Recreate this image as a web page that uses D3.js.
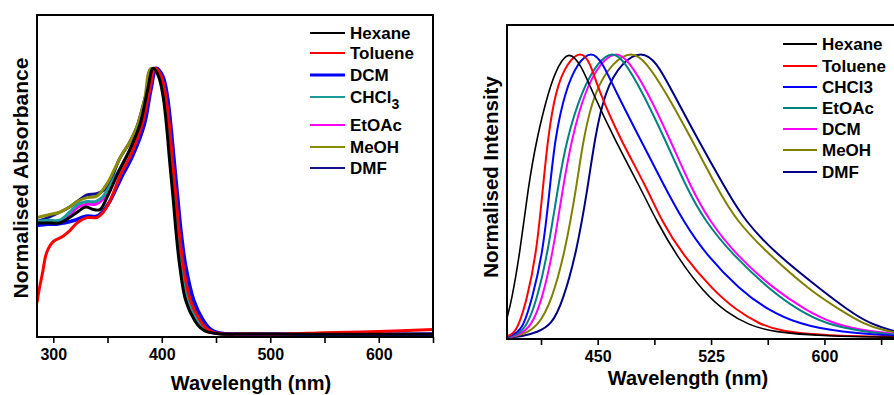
<!DOCTYPE html>
<html>
<head>
<meta charset="utf-8">
<script src="https://cdn.jsdelivr.net/npm/d3@7"></script>
<style>
  body { margin: 0; background: #fff; }
  svg { display: block; font-family: Arial, "Liberation Sans", sans-serif; font-weight: bold; }
</style>
</head>
<body>
<svg id="chart"></svg>
<script>
const size = { w: 894, h: 395 };

// ---- absorbance panel data: [wavelength nm, normalised absorbance] ----
const absHexane = [[285,0.42],[295,0.42],[306,0.42],[315,0.44],[322,0.46],[330,0.48],[337,0.47],[343,0.47],[350,0.52],[360,0.61],[370,0.69],[380,0.79],[387,0.92],[392,1.0],[397,0.97],[401,0.90],[404,0.80],[407.5,0.64],[410.5,0.51],[413.3,0.38],[416.5,0.26],[422,0.13],[430,0.056],[436,0.025],[442,0.011],[452,0.004],[480,0.003],[550,0.002],[650,0.002]];
const absToluene = [[285,0.12],[287,0.17],[290,0.23],[294,0.31],[300,0.35],[309,0.37],[315,0.39],[322,0.42],[331,0.44],[340,0.44],[346,0.46],[352,0.50],[362,0.60],[372,0.68],[382,0.79],[389,0.92],[394,1.0],[399.5,0.97],[403.5,0.90],[406.7,0.80],[410.1,0.64],[413.2,0.51],[416.2,0.38],[419.8,0.26],[426.3,0.13],[435,0.056],[441,0.025],[446.5,0.011],[456,0.004],[480,0.003],[515,0.003],[550,0.008],[600,0.013],[650,0.02]];
const absDCM = [[285,0.41],[295,0.415],[303,0.415],[310,0.42],[320,0.43],[330,0.445],[340,0.445],[345,0.46],[352,0.50],[364,0.60],[373,0.67],[384,0.79],[390,0.92],[395,1.0],[401,0.97],[405,0.90],[408,0.80],[411.5,0.65],[414.8,0.51],[418,0.38],[422,0.26],[429.5,0.13],[438,0.056],[444,0.025],[449.5,0.011],[458,0.004],[500,0.002],[650,0.002]];
const absCHCl3 = [[285,0.425],[295,0.43],[306,0.43],[315,0.46],[323,0.49],[331,0.50],[339,0.50],[346,0.52],[355,0.58],[365,0.65],[375,0.73],[383,0.83],[389,0.95],[393,1.0],[398.5,0.97],[402.5,0.90],[405.6,0.80],[409,0.64],[412,0.51],[414.8,0.38],[418.2,0.26],[424.3,0.13],[432.7,0.056],[438.7,0.025],[444.4,0.011],[454,0.004],[500,0.002],[650,0.002]];
const absEtOAc = [[285,0.42],[295,0.425],[306,0.425],[315,0.45],[323,0.48],[331,0.49],[339,0.49],[346,0.51],[355,0.57],[365,0.65],[375,0.73],[383,0.83],[389,0.95],[393,1.0],[398,0.97],[402,0.90],[405,0.80],[408.3,0.64],[411.3,0.51],[414.1,0.38],[417.4,0.26],[423.2,0.13],[431.4,0.056],[437.4,0.025],[443.2,0.011],[453,0.004],[500,0.002],[650,0.002]];
const absMeOH = [[285,0.44],[295,0.45],[306,0.46],[315,0.48],[322,0.50],[331,0.515],[340,0.52],[350,0.57],[361,0.66],[370,0.72],[377,0.78],[384,0.88],[390,1.0],[399,0.97],[403,0.90],[406.2,0.80],[409.6,0.64],[412.6,0.51],[415.5,0.38],[419,0.26],[425.3,0.13],[433.8,0.056],[439.8,0.025],[445.5,0.011],[455,0.004],[500,0.002],[650,0.002]];
const absDMF = [[285,0.425],[295,0.44],[306,0.46],[315,0.48],[322,0.50],[331,0.525],[340,0.53],[349,0.55],[361,0.66],[370,0.72],[377,0.78],[384,0.88],[390,0.97],[394,1.0],[400,0.97],[404,0.90],[407.3,0.80],[410.8,0.64],[414,0.51],[417.1,0.38],[421,0.26],[428,0.13],[436.5,0.056],[442.5,0.025],[448,0.011],[457,0.004],[500,0.002],[650,0.002]];

const absNames = ['Hexane', 'Toluene', 'DCM', 'CHCl3', 'EtOAc', 'MeOH', 'DMF'];
const absSeries = [absHexane, absToluene, absDCM, absCHCl3, absEtOAc, absMeOH, absDMF];
const absColors = ['#000000', '#ff0000', '#0000ff', '#1a9c9c', '#ff00ff', '#8c8c00', '#101090'];
const absTicks = [300, 350, 400, 450, 500, 550, 600, 650];
const absTickLabels = [300, 400, 500, 600];

// ---- emission panel data: [wavelength nm, normalised intensity] ----
const emHexane = [[390,0.07],[393,0.13],[398.6,0.30],[404,0.53],[409.6,0.70],[417.5,0.87],[424,0.96],[431,1.01],[439,0.96],[446,0.87],[461,0.70],[478,0.53],[489,0.41],[502,0.29],[520,0.16],[535,0.09],[550,0.045],[566,0.02],[600,0.006],[650,0.002]];
const emToluene = [[390,0.005],[394,0.015],[397.5,0.04],[403,0.13],[409.6,0.30],[413.8,0.53],[417,0.70],[422,0.87],[430,0.97],[439,1.01],[445,0.97],[450.6,0.87],[464.7,0.70],[482.3,0.53],[492.3,0.41],[506.5,0.29],[526,0.17],[541,0.10],[557,0.048],[572,0.022],[600,0.008],[650,0.003]];
const emCHCl3 = [[390,0.003],[396,0.015],[400.8,0.04],[406.3,0.13],[413.8,0.30],[418.4,0.53],[421.7,0.70],[428.5,0.87],[437,0.97],[446,1.01],[453,0.97],[461.6,0.87],[478,0.70],[494.4,0.53],[506.6,0.41],[522,0.29],[544,0.17],[562,0.10],[583,0.048],[610,0.02],[650,0.006]];
const emEtOAc = [[390,0.002],[397,0.012],[403,0.04],[409.6,0.13],[417,0.30],[423.7,0.53],[429.5,0.70],[439.6,0.87],[450,0.97],[460,1.01],[468,0.97],[479,0.87],[494.4,0.70],[508.5,0.53],[521,0.41],[539.6,0.29],[563.8,0.17],[582,0.10],[601,0.048],[625,0.022],[650,0.01]];
const emDCM = [[390,0.002],[398,0.01],[406,0.04],[413,0.13],[420.4,0.30],[427,0.53],[432.8,0.70],[441.6,0.87],[452,0.97],[462.7,1.01],[471,0.97],[482.5,0.87],[497.7,0.70],[511.5,0.53],[524,0.41],[541.8,0.29],[567,0.17],[587,0.10],[606,0.048],[630,0.022],[650,0.012]];
const emMeOH = [[390,0.001],[400,0.01],[410.6,0.04],[419.5,0.13],[428.3,0.30],[436,0.53],[440.4,0.70],[448,0.87],[460,0.97],[472.6,1.01],[482,0.97],[494.4,0.87],[512,0.70],[528.6,0.53],[541.8,0.41],[563.8,0.29],[592,0.16],[610,0.10],[626,0.048],[640,0.025],[650,0.016]];
const emDMF = [[390,0.001],[400,0.005],[410,0.02],[419.5,0.045],[427,0.13],[436,0.30],[443.5,0.53],[448,0.70],[454.8,0.87],[466,0.97],[479,1.01],[489,0.97],[499,0.87],[516,0.70],[534,0.53],[547.3,0.41],[569,0.29],[600,0.16],[615,0.10],[630,0.048],[650,0.018]];

const emNames = ['Hexane', 'Toluene', 'CHCl3', 'EtOAc', 'DCM', 'MeOH', 'DMF'];
const emSeries = [emHexane, emToluene, emCHCl3, emEtOAc, emDCM, emMeOH, emDMF];
const emColors = ['#000000', '#ff0000', '#0000ff', '#008080', '#ff00ff', '#808000', '#000080'];
const emTicks = [412.5, 450, 487.5, 525, 562.5, 600, 637.5];
const emTickLabels = [450, 525, 600];

const svg = d3.select('svg#chart')
    .attr('width', size.w)
    .attr('height', size.h);

// left panel: absorbance
drawPanel({
    id: 'abs',
    box: { l: 37, r: 433, t: 15, b: 337 },
    xDomain: [285, 650],
    yDomain: [-0.008, 1.2],
    curve: d3.curveCatmullRom.alpha(0.5),
    series: absSeries, names: absNames, colors: absColors,
    widths: [3, 3, 3.5, 3, 3, 3, 3],
    ticks: absTicks, tickLabels: absTickLabels,
    xTitle: 'Wavelength (nm)', xTitleY: 390, xTitleX: 251,
    yTitle: 'Normalised Absorbance', yTitleX: 28, yTitleY: 178, yTitleSize: 21,
    legend: { x1: 310, x2: 345, tx: 350, ys: [33, 53, 75, 97, 125, 147, 168] },
    rightBorder: true
});

// right panel: emission
drawPanel({
    id: 'em',
    box: { l: 507, r: 900, t: 25, b: 339 },
    xDomain: [390, 650],
    yDomain: [-0.004, 1.1],
    curve: d3.curveBasis,
    series: emSeries, names: emNames, colors: emColors,
    widths: [1.6, 2, 2, 2, 2, 2, 2],
    ticks: emTicks, tickLabels: emTickLabels,
    xTitle: 'Wavelength (nm)', xTitleY: 385, xTitleX: 688,
    yTitle: 'Normalised Intensity', yTitleX: 498, yTitleY: 177, yTitleSize: 20.5,
    legend: { x1: 783, x2: 817, tx: 822, ys: [44, 66, 87, 108, 129, 150, 172] },
    rightBorder: false
});

//FUNCTIONS
function drawPanel(p) {
    const b = p.box;
    const g = svg.append('g').classed(p.id, true);

    const x = d3.scaleLinear().domain(p.xDomain).range([b.l, b.r]);
    const y = d3.scaleLinear().domain(p.yDomain).range([b.b, b.t]);

    g.append('clipPath').attr('id', 'clip-' + p.id)
        .append('rect')
        .attr('x', b.l).attr('y', b.t)
        .attr('width', b.r - b.l).attr('height', b.b - b.t);

    const line = d3.line()
        .x(d => x(d[0]))
        .y(d => y(d[1]))
        .curve(p.curve);

    // curves, first series drawn last so it sits on top
    const order = d3.range(p.series.length).reverse();
    g.append('g').attr('clip-path', `url(#clip-${p.id})`)
        .selectAll('path')
        .data(order)
        .join('path')
        .attr('d', i => line(p.series[i]))
        .attr('fill', 'none')
        .attr('stroke', i => p.colors[i])
        .attr('stroke-width', i => p.widths[i])
        .attr('stroke-linejoin', 'round');

    // frame
    const frame = g.append('g').attr('stroke', '#000').attr('stroke-width', 2).attr('fill', 'none');
    frame.append('line').attr('x1', b.l).attr('x2', b.l).attr('y1', b.t - 1).attr('y2', b.b + 1);
    frame.append('line').attr('x1', b.l - 1).attr('x2', b.r + 1).attr('y1', b.t).attr('y2', b.t);
    frame.append('line').attr('x1', b.l - 1).attr('x2', b.r + 1).attr('y1', b.b).attr('y2', b.b);
    if (p.rightBorder) {
        frame.append('line').attr('x1', b.r).attr('x2', b.r).attr('y1', b.t - 1).attr('y2', b.b + 1);
    }

    // bottom axis
    const axis = d3.axisBottom(x)
        .tickValues(p.ticks)
        .tickSize(6)
        .tickFormat(d => p.tickLabels.includes(d) ? d : '');
    const ag = g.append('g')
        .attr('transform', `translate(0, ${b.b})`)
        .call(axis);
    ag.select('.domain').remove();
    ag.selectAll('.tick line').attr('stroke', '#000').attr('stroke-width', 1.6);
    ag.selectAll('.tick text')
        .attr('fill', '#000')
        .attr('y', 12)
        .style('font-size', '16px')
        .style('font-weight', 'bold')
        .style('font-family', 'Arial, "Liberation Sans", sans-serif');

    // axis titles
    g.append('text')
        .attr('x', p.xTitleX).attr('y', p.xTitleY)
        .attr('text-anchor', 'middle')
        .style('font-size', '20px')
        .text(p.xTitle);

    g.append('text')
        .attr('transform', `translate(${p.yTitleX}, ${p.yTitleY}) rotate(-90)`)
        .attr('text-anchor', 'middle')
        .style('font-size', p.yTitleSize + 'px')
        .text(p.yTitle);

    // legend
    const L = p.legend;
    const lg = g.append('g');
    p.names.forEach((name, i) => {
        lg.append('line')
            .attr('x1', L.x1).attr('x2', L.x2)
            .attr('y1', L.ys[i]).attr('y2', L.ys[i])
            .attr('stroke', p.colors[i])
            .attr('stroke-width', p.widths[i] > 3 ? 3 : 2);
        const t = lg.append('text')
            .attr('x', L.tx).attr('y', L.ys[i] + 6)
            .style('font-size', '17px');
        if (name === 'CHCl3' && p.id === 'abs') {
            t.append('tspan').text('CHCl');
            t.append('tspan').attr('dy', 6).style('font-size', '14px').text('3');
        } else {
            t.text(name);
        }
    });
}
</script>
</body>
</html>
